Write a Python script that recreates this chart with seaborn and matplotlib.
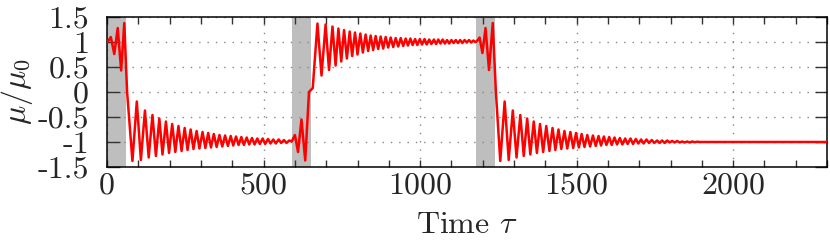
import matplotlib
matplotlib.use("Agg")
import matplotlib.pyplot as plt
from matplotlib.ticker import MultipleLocator
import seaborn as sns
import pandas as pd

# extrema / turning points, segment by segment
tau_band1 = [0, 5, 12, 23, 34, 45, 55, 64, 81]
mu_band1 = [1.0, 1.03, 1.1, 0.76, 1.28, 0.43, 1.38, 0.0, -1.38]

tau_down1 = [95, 108, 121, 133, 145, 156, 167, 177, 188, 198, 208, 218, 228, 238,
             248, 257, 267, 276, 286, 295, 305, 314, 323, 332, 341, 350, 359, 368,
             377, 386, 395, 403, 412, 420, 429, 437, 446, 454, 463, 471, 480, 488,
             497, 505, 514, 522, 531, 539, 548, 556, 565, 573, 582, 590]
mu_down1 = [-0.19, -1.36, -0.37, -1.31, -0.46, -1.28, -0.53, -1.25, -0.59, -1.22,
            -0.64, -1.20, -0.68, -1.18, -0.72, -1.16, -0.75, -1.14, -0.78, -1.13,
            -0.80, -1.12, -0.82, -1.11, -0.84, -1.10, -0.86, -1.09, -0.87, -1.08,
            -0.88, -1.07, -0.89, -1.06, -0.90, -1.06, -0.91, -1.05, -0.92, -1.05,
            -0.93, -1.04, -0.93, -1.04, -0.94, -1.03, -0.95, -1.03, -0.95, -1.02,
            -0.96, -1.02, -0.97, -0.99]

tau_band2 = [600, 610, 621, 633, 645, 657, 672]
mu_band2 = [-0.86, -1.20, -0.55, -1.37, 0.0, 0.08, 1.37]

tau_up = [685, 698, 709, 720, 730, 739, 748, 757, 766, 775, 783, 792, 800, 809,
          817, 826, 834, 842, 850, 858, 866, 874, 882, 890, 898, 906, 914, 922,
          930, 938, 946, 954, 961, 969, 976, 984, 991, 999, 1006, 1014, 1021, 1029,
          1036, 1044, 1051, 1058, 1065, 1072, 1079, 1086, 1093, 1100, 1107, 1114,
          1121, 1128, 1135, 1142, 1149, 1156, 1163, 1170, 1177]
mu_up = [0.33, 1.35, 0.44, 1.31, 0.53, 1.27, 0.61, 1.24, 0.67, 1.21, 0.72, 1.19,
         0.75, 1.17, 0.79, 1.15, 0.82, 1.13, 0.84, 1.12, 0.86, 1.11, 0.87, 1.10,
         0.89, 1.09, 0.90, 1.08, 0.91, 1.08, 0.92, 1.07, 0.93, 1.07, 0.94, 1.06,
         0.94, 1.06, 0.95, 1.06, 0.95, 1.05, 0.96, 1.05, 0.96, 1.05, 0.97, 1.05,
         0.97, 1.04, 0.97, 1.04, 0.98, 1.04, 0.98, 1.04, 0.98, 1.04, 0.99, 1.04,
         0.99, 1.03, 1.00]

tau_band3 = [1182, 1190, 1199, 1209, 1220, 1232, 1242, 1256]
mu_band3 = [1.02, 1.09, 0.78, 1.28, 0.44, 1.38, 0.0, -1.38]

tau_down2 = [1270, 1283, 1296, 1308, 1320, 1331, 1342, 1352, 1363, 1373, 1383, 1393,
             1403, 1413, 1423, 1432, 1442, 1451, 1461, 1470, 1480, 1489, 1498, 1507,
             1516, 1525, 1534, 1543, 1552, 1561, 1570, 1578, 1587, 1595, 1604, 1612,
             1621, 1629, 1638, 1646, 1655, 1663, 1672, 1680, 1689, 1697, 1706, 1714,
             1723, 1731, 1740, 1748, 1757, 1765, 1773, 1781, 1789, 1797, 1805, 1813,
             1821, 1829, 1837, 1845, 1853, 1861, 1869, 1877, 1885, 1893, 2300]
mu_down2 = [-0.19, -1.36, -0.37, -1.31, -0.46, -1.28, -0.53, -1.25, -0.59, -1.22,
            -0.64, -1.20, -0.68, -1.18, -0.72, -1.16, -0.75, -1.14, -0.78, -1.13,
            -0.80, -1.12, -0.82, -1.11, -0.84, -1.10, -0.86, -1.09, -0.87, -1.08,
            -0.88, -1.07, -0.89, -1.06, -0.90, -1.06, -0.91, -1.05, -0.92, -1.05,
            -0.93, -1.04, -0.93, -1.04, -0.94, -1.03, -0.95, -1.03, -0.95, -1.02,
            -0.96, -1.02, -0.97, -1.02, -0.97, -1.02, -0.97, -1.01, -0.98, -1.01,
            -0.98, -1.01, -0.99, -1.01, -0.99, -1.01, -0.99, -1.005, -0.995, -1.0,
            -1.0]

# shaded switching windows
band_starts = [0, 592, 1180]
band_ends = [62, 650, 1238]

x_ticks = [0, 500, 1000, 1500, 2000]
x_ticklabels = ["0", "500", "1000", "1500", "2000"]
y_ticks = [-1.5, -1, -0.5, 0, 0.5, 1, 1.5]
y_ticklabels = ["-1.5", "-1", "-0.5", "0", "0.5", "1", "1.5"]

df = pd.DataFrame({
    "tau": tau_band1 + tau_down1 + tau_band2 + tau_up + tau_band3 + tau_down2,
    "mu": mu_band1 + mu_down1 + mu_band2 + mu_up + mu_band3 + mu_down2,
})

sns.set_style("ticks")
plt.rcParams["font.family"] = ["cmr10", "DejaVu Serif"]
plt.rcParams["mathtext.fontset"] = "cm"
plt.rcParams["axes.unicode_minus"] = False

fig = plt.figure(figsize=(8.3, 2.47), dpi=100)
ax = fig.add_axes([0.129, 0.324, 0.8675, 0.607])

for s, e in zip(band_starts, band_ends):
    ax.axvspan(s, e, color="#bebebe", lw=0, zorder=0.2)

sns.lineplot(data=df, x="tau", y="mu", ax=ax, color="red", lw=1.8,
             sort=False, estimator=None, zorder=3)

ax.set_xlim(0, 2300)
ax.set_ylim(-1.5, 1.5)
ax.set_xticks(x_ticks)
ax.set_xticklabels(x_ticklabels)
ax.xaxis.set_minor_locator(MultipleLocator(100))
ax.set_yticks(y_ticks)
ax.set_yticklabels(y_ticklabels)

ax.grid(True, which="major", color="#888888", lw=1.0, ls=(0, (1, 5)))
ax.set_axisbelow(True)

ax.tick_params(axis="both", which="both", direction="in", top=True, right=True,
               color="#333333", labelsize=23)
ax.tick_params(axis="x", which="both", length=5, width=1, pad=4)
ax.tick_params(axis="y", which="major", length=9, width=1, pad=13)

for sp in ax.spines.values():
    sp.set_linewidth(1.1)
    sp.set_color("black")

ax.set_xlabel(r"Time $\tau$", fontsize=23)
ax.set_ylabel(r"$\mu/\mu_0$", fontsize=23)
ax.xaxis.set_label_coords(0.5, -0.3)
ax.yaxis.set_label_coords(-0.1, 0.5)

fig.savefig("out.png", dpi=100)
